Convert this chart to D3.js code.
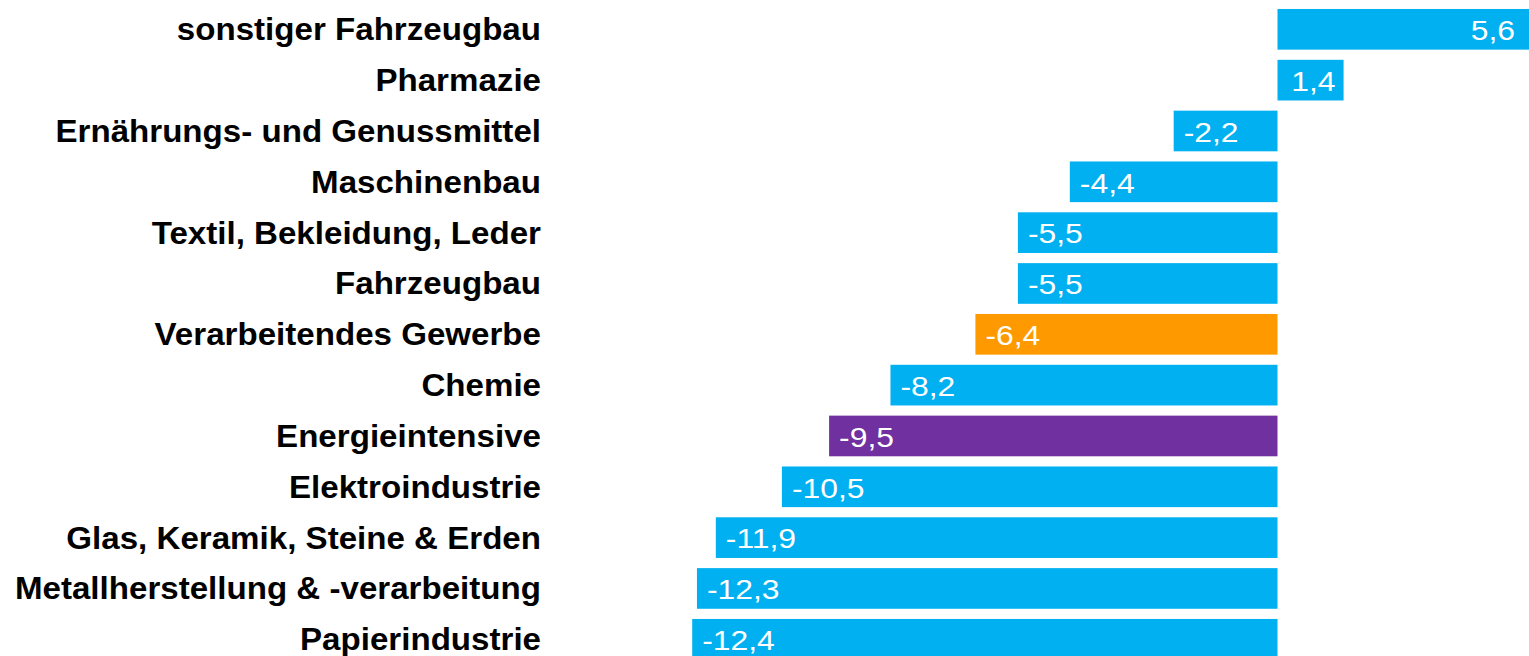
<!DOCTYPE html>
<html>
<head>
<meta charset="utf-8">
<script src="https://cdn.jsdelivr.net/npm/d3@7"></script>
<style>
  html, body { margin: 0; padding: 0; background: #fff; overflow: hidden; }
  svg { display: block; }
</style>
</head>
<body>
<script>
// Branchen, von oben nach unten
var categories = [
  "sonstiger Fahrzeugbau",
  "Pharmazie",
  "Ernährungs- und Genussmittel",
  "Maschinenbau",
  "Textil, Bekleidung, Leder",
  "Fahrzeugbau",
  "Verarbeitendes Gewerbe",
  "Chemie",
  "Energieintensive",
  "Elektroindustrie",
  "Glas, Keramik, Steine & Erden",
  "Metallherstellung & -verarbeitung",
  "Papierindustrie"
];
var values = [5.6, 1.4, -2.2, -4.4, -5.5, -5.5, -6.4, -8.2, -9.5, -10.5, -11.9, -12.3, -12.4];
// Gruppe je Balken: Branche, Gesamt, Energieintensiv
var groups = ["branche", "branche", "branche", "branche", "branche", "branche", "gesamt",
  "branche", "energie", "branche", "branche", "branche", "branche"];

var W = 1529, H = 656;
var colour = { branche: "#00B0F0", gesamt: "#FF9900", energie: "#7030A0" };

var svg = d3.select("body").append("svg").attr("width", W).attr("height", H);

var x = d3.scaleLinear().domain([-13, 6]).range([663.9, 1560.7]);
var y = d3.scaleBand().domain(categories).range([3.9, 664.7])
  .paddingInner(0.2).paddingOuter(0.1);

var rows = categories.map(function (c, i) { return { cat: c, v: values[i], g: groups[i] }; });

svg.selectAll("rect.bar").data(rows).enter().append("rect")
  .attr("class", "bar")
  .attr("x", function (d) { return x(Math.min(0, d.v)); })
  .attr("y", function (d) { return y(d.cat); })
  .attr("width", function (d) { return Math.abs(x(d.v) - x(0)); })
  .attr("height", y.bandwidth())
  .attr("fill", function (d) { return colour[d.g]; });

// Kategorien links
svg.selectAll("text.cat").data(rows).enter().append("text")
  .attr("class", "cat")
  .attr("transform", function (d) {
    return "translate(541," + (y(d.cat) + y.bandwidth() / 2) + ") scale(1.035,1)";
  })
  .attr("dy", "0.34em")
  .attr("text-anchor", "end")
  .style("font-family", "'Liberation Sans', Arial, sans-serif")
  .style("font-weight", "bold")
  .style("font-size", "32px")
  .style("fill", "#000")
  .text(function (d) { return d.cat; });

// Werte im Balken
var fmt = function (v) { return d3.format(".1f")(v).replace(".", ",").replace("−", "-"); };
svg.selectAll("text.val").data(rows).enter().append("text")
  .attr("class", "val")
  .attr("transform", function (d) {
    var tx = d.v < 0 ? x(d.v) + 10 : Math.min(x(d.v) - 8, W - 14);
    return "translate(" + tx + "," + (y(d.cat) + y.bandwidth() / 2) + ") scale(1.18,1)";
  })
  .attr("dy", "0.4em")
  .attr("text-anchor", function (d) { return d.v < 0 ? "start" : "end"; })
  .style("font-family", "'Liberation Sans', Arial, sans-serif")
  .style("font-size", "27px")
  .style("fill", "#fff")
  .text(function (d) { return fmt(d.v); });
</script>
</body>
</html>
